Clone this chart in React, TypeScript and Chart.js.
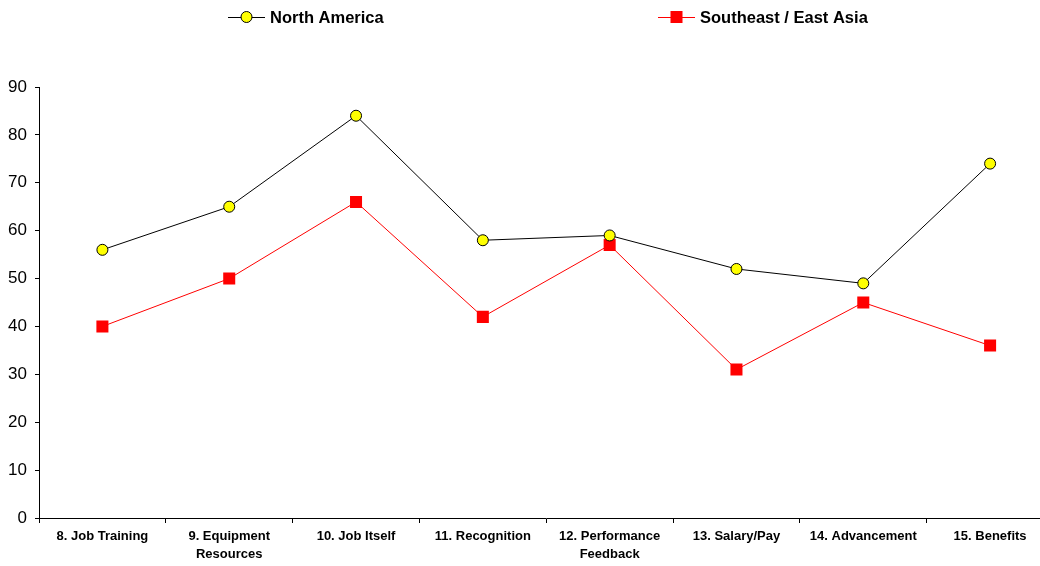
import React, { useEffect, useRef } from "react";
import { Chart, registerables } from "chart.js";

Chart.register(...registerables);

const categories: (string | string[])[] = [
  "8. Job Training",
  ["9. Equipment", "Resources"],
  "10. Job Itself",
  "11. Recognition",
  ["12. Performance", "Feedback"],
  "13. Salary/Pay",
  "14. Advancement",
  "15. Benefits",
];
const northAmerica = [56, 65, 84, 58, 59, 52, 49, 74];
const southeastEastAsia = [40, 50, 66, 42, 57, 31, 45, 36];
const seriesNames = ["North America", "Southeast / East Asia"];
const yMin = 0;
const yMax = 90;
const yStep = 10;

const FONT = "'Liberation Sans', Arial, sans-serif";

const legendPlugin = {
  id: "customLegend",
  afterDraw(chart: any) {
    const ctx = chart.ctx;
    const y = 17;
    const starts = [228, 658];
    ctx.save();
    chart.data.datasets.forEach((ds: any, i: number) => {
      const x0 = starts[i];
      ctx.strokeStyle = ds.borderColor;
      ctx.lineWidth = 1;
      ctx.beginPath();
      ctx.moveTo(x0, y + 0.5);
      ctx.lineTo(x0 + 37, y + 0.5);
      ctx.stroke();
      const cx = x0 + 18.5;
      if (ds.pointStyle === "circle") {
        ctx.beginPath();
        ctx.arc(cx, y, 5.5, 0, Math.PI * 2);
        ctx.fillStyle = ds.pointBackgroundColor;
        ctx.fill();
        ctx.strokeStyle = ds.pointBorderColor;
        ctx.stroke();
      } else {
        ctx.fillStyle = ds.pointBackgroundColor;
        ctx.fillRect(cx - 6, y - 6, 12, 12);
      }
      ctx.fillStyle = "#000";
      ctx.font = `bold 16.5px ${FONT}`;
      ctx.textBaseline = "middle";
      ctx.textAlign = "left";
      ctx.fillText(ds.label, x0 + 42, y + 1);
    });
    ctx.restore();
  },
};

export default function App() {
  const ref = useRef<HTMLCanvasElement>(null);
  useEffect(() => {
    document.body.style.margin = "0";
    document.body.style.overflow = "hidden";
    const chart = new Chart(ref.current!, {
      type: "line",
      data: {
        labels: categories,
        datasets: [
          {
            label: seriesNames[0],
            data: northAmerica,
            borderColor: "#000000",
            borderWidth: 1,
            pointStyle: "circle",
            pointRadius: 5.5,
            pointBackgroundColor: "#FFFF00",
            pointBorderColor: "#000000",
            pointBorderWidth: 1,
            tension: 0,
          },
          {
            label: seriesNames[1],
            data: southeastEastAsia,
            borderColor: "#FF0000",
            borderWidth: 1,
            pointStyle: "rect",
            pointRadius: 8.5,
            pointBackgroundColor: "#FF0000",
            pointBorderColor: "#FF0000",
            pointBorderWidth: 0,
            tension: 0,
          },
        ],
      },
      options: {
        animation: false,
        responsive: false,
        layout: { padding: { top: 87, right: 1, left: 0, bottom: 0 } },
        plugins: {
          legend: { display: false },
          tooltip: { enabled: false },
        },
        scales: {
          x: {
            type: "category",
            offset: true,
            afterFit: (s: any) => {
              s.height = 48;
            },
            grid: {
              offset: true,
              drawOnChartArea: false,
              drawTicks: true,
              tickLength: 5,
              color: "#000",
            },
            border: { display: true, color: "#000", width: 1 },
            ticks: {
              color: "#000",
              font: { family: FONT, size: 13, weight: "bold", lineHeight: 1.4 },
              padding: 4,
              maxRotation: 0,
              autoSkip: false,
            },
          },
          y: {
            min: yMin,
            max: yMax,
            afterFit: (s: any) => {
              s.width = 39;
            },
            grid: {
              drawOnChartArea: false,
              drawTicks: true,
              tickLength: 4,
              color: "#000",
            },
            border: { display: true, color: "#000", width: 1 },
            ticks: {
              stepSize: yStep,
              color: "#000",
              font: { family: FONT, size: 17 },
              padding: 8,
            },
          },
        },
      },
      plugins: [legendPlugin],
    });
    return () => chart.destroy();
  }, []);
  return (
    <div style={{ width: 1040, height: 566, overflow: "hidden" }}>
      <canvas ref={ref} width={1062} height={566} style={{ display: "block" }} />
    </div>
  );
}
